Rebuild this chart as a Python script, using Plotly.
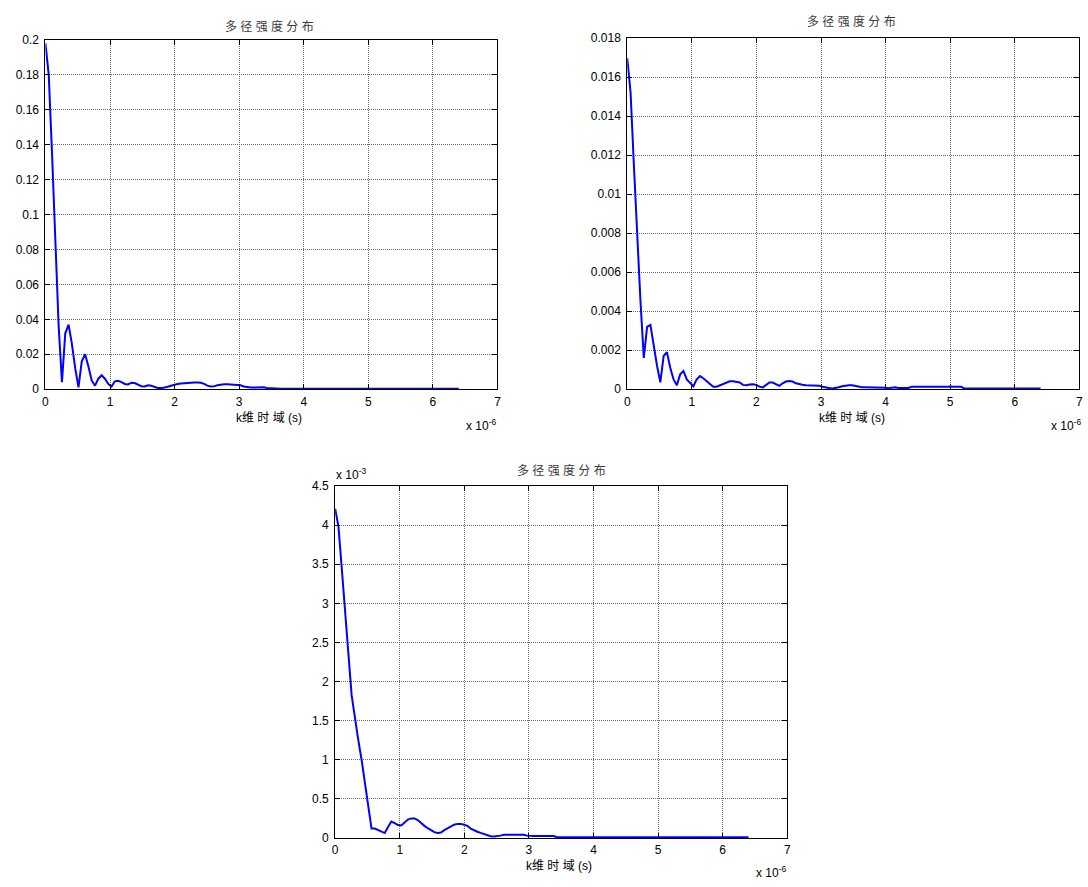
import plotly.graph_objects as go

# ---------------- data ----------------
dt_us = 0.0512                      # sample interval (x 1e-6 s)
n_samples = 126
t_us = [round(i * dt_us, 4) for i in range(n_samples)]

# top-left: multipath intensity (linear units)
y_tl = [0.198, 0.180, 0.135, 0.085, 0.036, 0.004, 0.032, 0.037, 0.026, 0.012,
        0.001, 0.016, 0.020, 0.013, 0.005, 0.002, 0.006, 0.008, 0.006, 0.003,
        0.0015, 0.0045, 0.0048, 0.0040, 0.0030, 0.0027, 0.0037, 0.0035, 0.0025, 0.0017,
        0.0015, 0.0022, 0.0020, 0.0012, 0.0007, 0.0006, 0.0009, 0.0014, 0.0020, 0.0026,
        0.0030, 0.0033, 0.0035, 0.0037, 0.0038, 0.0038, 0.0038, 0.0037, 0.0030, 0.0020,
        0.0015, 0.0016, 0.0022, 0.0026, 0.0028, 0.0028, 0.0027, 0.0025, 0.0023, 0.0022,
        0.0015, 0.0010, 0.0009, 0.0009, 0.0010, 0.0013, 0.0011, 0.0007, 0.0005, 0.0004,
        0.0003, 0.0003, 0.0003, 0.0003, 0.0003, 0.0003, 0.0003, 0.0003, 0.0003, 0.0003,
        0.0003, 0.0003, 0.0003, 0.0003, 0.0003, 0.0002, 0.0002, 0.0002, 0.0002, 0.0002,
        0.0002, 0.0002, 0.0002, 0.0002, 0.0002, 0.0002, 0.0002, 0.0002, 0.0002, 0.0002,
        0.0002, 0.0002, 0.0002, 0.0002, 0.0002, 0.0002, 0.0002, 0.0002, 0.0002, 0.0002,
        0.0002, 0.0002, 0.0002, 0.0002, 0.0002, 0.0002, 0.0002, 0.0002, 0.0002, 0.0002,
        0.0002, 0.0002, 0.0002, 0.0002, 0.0002, 0.0002]

# top-right
y_tr = [0.01697, 0.01523, 0.0115, 0.0076, 0.0045, 0.0016, 0.0032, 0.0033, 0.0022, 0.0012,
        0.00035, 0.0017, 0.0019, 0.0011, 0.0005, 0.0002, 0.00076, 0.00093, 0.0005, 0.0003,
        0.00015, 0.0005, 0.00067, 0.00056, 0.0004, 0.00025, 0.00013, 0.00013, 0.0002, 0.0003,
        0.00037, 0.0004, 0.0004, 0.00038, 0.00034, 0.00022, 0.0002, 0.00024, 0.00025, 0.00022,
        0.00013, 0.00009, 0.0002, 0.00034, 0.00034, 0.00025, 0.00017, 0.0003, 0.00039, 0.00042,
        0.00039, 0.0003, 0.00025, 0.00023, 0.0002, 0.0002, 0.0002, 0.0002, 0.00018, 0.00012,
        0.00008, 0.00006, 0.00004, 0.00006, 0.0001, 0.00015, 0.00018, 0.0002, 0.0002, 0.00017,
        0.00012, 0.0001, 0.0001, 0.0001, 0.0001, 0.0001, 0.0001, 0.0001, 0.00007, 0.00005,
        0.00008, 0.0001, 0.00006, 0.00005, 0.00005, 0.00006, 0.00012, 0.00012, 0.00012, 0.00012,
        0.00012, 0.00012, 0.00012, 0.00012, 0.00012, 0.00012, 0.00012, 0.00012, 0.00012, 0.00012,
        0.00012, 0.00012, 0.00003, 0.00003, 0.00003, 0.00003, 0.00003, 0.00003, 0.00003, 0.00003,
        0.00003, 0.00003, 0.00003, 0.00003, 0.00003, 0.00003, 0.00003, 0.00003, 0.00003, 0.00003,
        0.00003, 0.00003, 0.00003, 0.00003, 0.00003, 0.00003]

# bottom (values in units of 1e-3)
y_bot_e3 = [4.21, 3.98, 3.45, 2.95, 2.36, 1.82, 1.50, 1.25, 1.00, 0.70,
            0.42, 0.12, 0.12, 0.10, 0.08, 0.063, 0.14, 0.21, 0.19, 0.165,
            0.16, 0.20, 0.235, 0.25, 0.25, 0.23, 0.19, 0.155, 0.125, 0.095,
            0.075, 0.063, 0.07, 0.10, 0.125, 0.15, 0.17, 0.18, 0.18, 0.17,
            0.155, 0.12, 0.095, 0.08, 0.065, 0.05, 0.035, 0.022, 0.02, 0.022,
            0.03, 0.04, 0.04, 0.04, 0.04, 0.04, 0.04, 0.04, 0.03, 0.025,
            0.025, 0.025, 0.025, 0.025, 0.025, 0.025, 0.025, 0.012, 0.01, 0.01,
            0.01, 0.01, 0.01, 0.01, 0.01, 0.01, 0.01, 0.01, 0.01, 0.01,
            0.01, 0.01, 0.01, 0.01, 0.01, 0.01, 0.01, 0.01, 0.01, 0.01,
            0.01, 0.01, 0.01, 0.01, 0.01, 0.01, 0.01, 0.01, 0.01, 0.01,
            0.01, 0.01, 0.01, 0.01, 0.01, 0.01, 0.01, 0.01, 0.01, 0.01,
            0.01, 0.01, 0.01, 0.01, 0.01, 0.01, 0.01, 0.01, 0.01, 0.01,
            0.01, 0.01, 0.01, 0.01, 0.01, 0.01]

x_ticks = [0, 1, 2, 3, 4, 5, 6, 7]
x_tick_text = ["0", "1", "2", "3", "4", "5", "6", "7"]
y_tl_ticks = [0, 0.02, 0.04, 0.06, 0.08, 0.1, 0.12, 0.14, 0.16, 0.18, 0.2]
y_tl_text = ["0", "0.02", "0.04", "0.06", "0.08", "0.1", "0.12", "0.14", "0.16", "0.18", "0.2"]
y_tr_ticks = [0, 0.002, 0.004, 0.006, 0.008, 0.01, 0.012, 0.014, 0.016, 0.018]
y_tr_text = ["0", "0.002", "0.004", "0.006", "0.008", "0.01", "0.012", "0.014", "0.016", "0.018"]
y_bot_ticks = [0, 0.5, 1, 1.5, 2, 2.5, 3, 3.5, 4, 4.5]
y_bot_text = ["0", "0.5", "1", "1.5", "2", "2.5", "3", "3.5", "4", "4.5"]

title_text = "多 径 强 度 分 布"
xlabel_text = "k维 时 域 (s)"

# ---------------- figure ----------------
W, H = 1088, 887
def px(x):
    return x / W
def py(y):
    return 1 - y / H

fig = go.Figure()
line_style = dict(color="#0000ff", width=2)
fig.add_trace(go.Scatter(x=t_us, y=y_tl, mode="lines", line=line_style, xaxis="x", yaxis="y", showlegend=False))
fig.add_trace(go.Scatter(x=t_us, y=y_tr, mode="lines", line=line_style, xaxis="x2", yaxis="y2", showlegend=False))
fig.add_trace(go.Scatter(x=t_us, y=y_bot_e3, mode="lines", line=line_style, xaxis="x3", yaxis="y3", showlegend=False))

tickfont = dict(family="Liberation Sans, Arial, sans-serif", size=12, color="black")
common = dict(showline=True, linecolor="black", linewidth=1, mirror="ticks",
              ticks="inside", ticklen=5, tickcolor="black", tickwidth=1,
              showgrid=True, gridcolor="#6e6e6e", griddash="1px,1px", gridwidth=1,
              zeroline=False, tickfont=tickfont)

def xax(dom, anchor):
    return dict(common, domain=dom, anchor=anchor, range=[0, 7], tickmode="array",
                tickvals=x_ticks, ticktext=x_tick_text, ticklabelstandoff=1)

def yax(dom, anchor, rng, tv, tt):
    return dict(common, domain=dom, anchor=anchor, range=rng, tickmode="array",
                tickvals=tv, ticktext=tt, ticklabelstandoff=3)

# axes boxes in pixels
tl = (42.7, 497.7, 33.5, 388.3)
tr = (628.3, 1083.3, 31.7, 388.3)
bt = (334.3, 789.3, 486.7, 844.3)

fig.update_layout(
    width=W, height=H,
    margin=dict(l=0, r=0, t=0, b=0),
    paper_bgcolor="white", plot_bgcolor="white",
    xaxis=xax([px(tl[0]), px(tl[1])], "y"),
    yaxis=yax([py(tl[3]), py(tl[2])], "x", [0, 0.2], y_tl_ticks, y_tl_text),
    xaxis2=xax([px(tr[0]), px(tr[1])], "y2"),
    yaxis2=yax([py(tr[3]), py(tr[2])], "x2", [0, 0.018], y_tr_ticks, y_tr_text),
    xaxis3=xax([px(bt[0]), px(bt[1])], "y3"),
    yaxis3=yax([py(bt[3]), py(bt[2])], "x3", [0, 4.5], y_bot_ticks, y_bot_text),
)

cjk = dict(family="Liberation Sans, Noto Sans CJK SC", size=12, color="#3a3a3a")
lab = dict(family="Liberation Sans, Noto Sans CJK SC", size=12, color="black")

annots = []
for (cx, cy) in [(268, 20), (854, 15), (562, 471)]:
    annots.append(dict(text=title_text, x=px(cx), y=py(cy), xref="paper", yref="paper",
                       xanchor="center", yanchor="middle", showarrow=False, font=cjk))
for (cx, cy) in [(268, 418), (854, 418), (560, 873)]:
    annots.append(dict(text=xlabel_text, x=px(cx), y=py(cy), xref="paper", yref="paper",
                       xanchor="center", yanchor="middle", showarrow=False, font=lab))
for (rx, cy) in [(498, 425), (1087, 425), (790, 879)]:
    annots.append(dict(text="x 10<sup>-6</sup>", x=px(rx), y=py(cy), xref="paper", yref="paper",
                       xanchor="right", yanchor="middle", showarrow=False, font=lab))
annots.append(dict(text="x 10<sup>-3</sup>", x=px(333), y=py(474), xref="paper", yref="paper",
                   xanchor="left", yanchor="middle", showarrow=False, font=lab))
fig.update_layout(annotations=annots)

fig.write_html("out.html")
